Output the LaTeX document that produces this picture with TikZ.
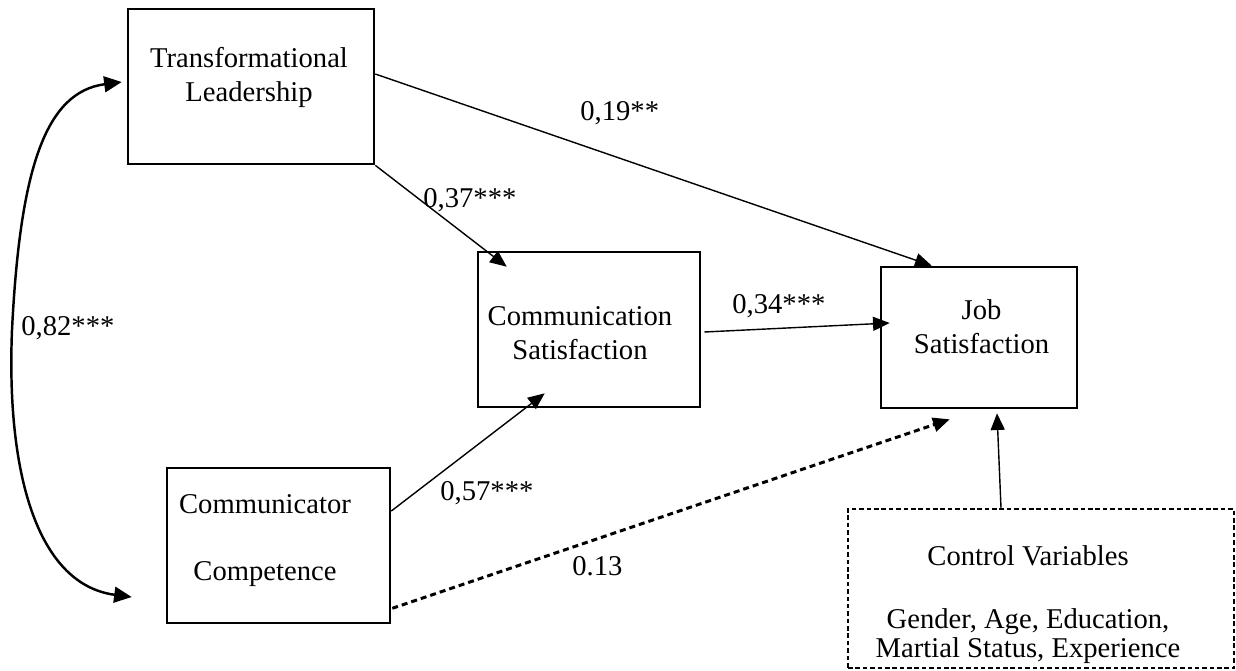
\documentclass[tikz,border=0pt]{standalone}
\usepackage{fontspec}
\setmainfont{Liberation Serif}
\usetikzlibrary{arrows.meta,calc}

\begin{document}
\begin{tikzpicture}[
    x=0.02cm,y=-0.02cm,
    >={Triangle[length=9.5pt,width=8pt]},
    font=\fontsize{16.3pt}{19.3pt}\selectfont,
    box/.style={draw,line width=1.5pt,inner sep=0pt},
    ctrlbox/.style={draw,line width=1.2pt,dash pattern=on 2.6pt off 1.6pt,inner sep=0pt},
    txt/.style={align=center,inner sep=0pt,anchor=base},
    coef/.style={inner sep=0pt,anchor=base west},
    effect/.style={->,line width=0.8pt},
    weak/.style={->,line width=1.7pt,dash pattern=on 3.4pt off 2.3pt},
    corr/.style={<->,line width=1.4pt,>={Triangle[length=10pt,width=9pt]}}
  ]
    \useasboundingbox (0,0) rectangle (1236,670);

    % variables
    \node[box,minimum width=4.92cm,minimum height=3.10cm] (lead) at (251,86.5) {};
    \node[box,minimum width=4.44cm,minimum height=3.10cm] (comsat) at (589,329.5) {};
    \node[box,minimum width=3.92cm,minimum height=2.82cm] (job) at (979,337.5) {};
    \node[box,minimum width=4.46cm,minimum height=3.10cm] (comp) at (278.5,545.5) {};
    \node[ctrlbox,minimum width=7.72cm,minimum height=3.18cm] (ctrl) at (1041,588.5) {};

    \node[txt] (lead-t) at (249,101) {Transformational\\Leadership};
    \node[txt] (comsat-t) at (580,359) {Communication\\Satisfaction};
    \node[txt] (job-t) at (981.5,353) {Job\\Satisfaction};
    \node[txt] (comp-t) at (265,580) {Communicator\\[18.7pt]Competence};
    \node[txt] (ctrl-t) at (1028,657) {Control Variables\\[16.4pt]Gender, Age, Education,\\[-2.9pt]Martial Status, Experience};

    % path coefficients
    \node[coef] (c82) at (21,335) {0,82***};
    \node[coef] (c19) at (580,120) {0,19**};
    \node[coef] (c37) at (423,207) {0,37***};
    \node[coef] (c34) at (732,313) {0,34***};
    \node[coef] (c57) at (440,500) {0,57***};
    \node[coef] (c13) at (572,575) {0.13};

    \draw[effect] (lead.south east) -- ($(comsat.north west)+(30,16)$);
    \draw[effect] ($(lead.east)+(0,-12.5)$) -- ($(job.north west)+(52,0)$);
    \draw[effect] ($(comsat.east)+(3,2.5)$) -- ($(job.west)+(10,-14.5)$);
    \draw[effect] ($(comp.east)+(0,-34.5)$) -- ($(comsat.south west)+(68,-15)$);
    \draw[weak] ($(comp.south east)+(1,-16)$) -- ($(job.south west)+(70,10)$);
    \draw[effect] ($(ctrl.north)+(-40,0)$) -- ($(job.south)+(18,4)$);

    % correlation
    \draw[corr] ($(lead.west)+(-5,-4.5)$) .. controls (45,92) and (20,170) .. (12,330)
      .. controls (6,480) and (40,585) .. ($(comp.west)+(-34,51.5)$);
  \end{tikzpicture}
\end{document}
